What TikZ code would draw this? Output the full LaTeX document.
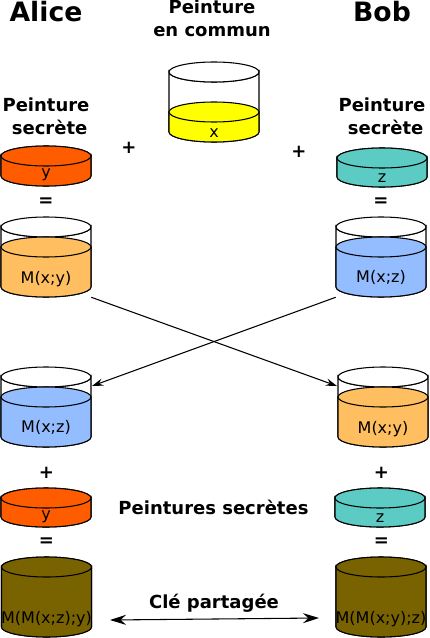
\documentclass[tikz,border=0pt]{standalone}
\usepackage{fontspec}
\setmainfont{DejaVu Sans}
\usetikzlibrary{arrows.meta,positioning}
\definecolor{potorange}{HTML}{FF5C00}
\definecolor{potteal}{HTML}{5CCBC4}
\definecolor{potyellow}{HTML}{FFFF00}
\definecolor{potsand}{HTML}{FFBF60}
\definecolor{potblue}{HTML}{94BDFF}
\definecolor{potbrown}{HTML}{786300}
% #1 name, #2 centre x, #3 top, #4 paint level, #5 bottom (ellipse centres), #6 colour, #7 text, #8 text y
\newcommand{\pot}[8]{
  \draw[potline, fill=white] (#2-45,#3) -- (#2-45,#5) arc (180:0:45 and 10) -- (#2+45,#3) arc (0:180:45 and 10) -- cycle;
  \draw[potline, fill=white] (#2,#3) ellipse [x radius=45, y radius=10];
  \draw[potline, fill=#6] (#2-45,#4) -- (#2-45,#5) arc (180:0:45 and 10) -- (#2+45,#4) -- cycle;
  \draw[potline, fill=#6] (#2,#4) ellipse [x radius=45, y radius=10];
  \node[potbox] (#1) at (#2,{(#3+#5)/2}) {};
  \node[pottext] (#1-txt) at (#2,#8) {#7};
  \coordinate (#1-l) at (#2-46,#3+9);
  \coordinate (#1-r) at (#2+46,#3+9);
}

\begin{document}
\begin{tikzpicture}[
  x=0.75pt, y=-0.75pt,
  potline/.style={draw=black, line width=0.8pt},
  potbox/.style={minimum width=67.5pt, minimum height=60pt, inner sep=0pt},
  pottext/.style={inner sep=0pt, font=\fontsize{12}{14}\selectfont},
  person/.style={inner sep=0pt, font=\fontsize{20}{24}\bfseries\selectfont},
  head/.style={inner sep=0pt, align=center, font=\fontsize{13.5}{17}\bfseries\selectfont},
  sign/.style={inner sep=0pt, font=\fontsize{13.5}{15}\bfseries\selectfont},
  pf/.style={-{Stealth[length=8.5pt, width=5.5pt, inset=3pt]}, line width=0.8pt},
  pfboth/.style={{Stealth[length=12pt, width=7.5pt, inset=4pt]}-{Stealth[length=12pt, width=7.5pt, inset=4pt]}, line width=0.8pt}
]
\useasboundingbox (0,0) rectangle (429,638);

\node[person] (alice) at (46,12) {Alice};
\node[person] (bob) at (382,12) {Bob};
\node[head] (common) at (212,18.5) {Peinture\\en commun};
\node[head] (secretA) at (46,116) {Peinture\\\hspace*{0.4em}secrète};
\node[head] (secretB) at (382,116) {Peinture\\\hspace*{0.4em}secrète};

\pot{potx}{214}{72}{112}{132}{potyellow}{x}{133.5}
\pot{poty}{46}{156}{156}{176}{potorange}{y}{175}
\pot{potz}{382}{158}{158}{177}{potteal}{z}{178}
\pot{mxy}{46}{227}{247}{287}{potsand}{M(x;y)}{279}
\pot{mxz}{381}{227}{247}{287}{potblue}{M(x;z)}{277}
\pot{recvA}{46}{377}{397}{437}{potblue}{M(x;z)}{427}
\pot{recvB}{383}{377}{397}{437}{potsand}{M(x;y)}{429}
\pot{polyA}{46}{498}{498}{517}{potorange}{y}{517}
\pot{polyB}{380}{498}{498}{517}{potteal}{z}{518}
\pot{keyA}{46.5}{567}{567}{627}{potbrown}{M(M(x;z);y)}{619}
\pot{keyB}{381}{567}{567}{627}{potbrown}{M(M(x;y);z)}{619}

\node[sign] (plusA) at (129,147.5) {+};
\node[sign] (plusB) at (299,151.5) {+};
\node[sign] (eqA) at (46,202.5) {=};
\node[sign] (eqB) at (381,202.5) {=};
\node[sign] (plusC) at (46.5,472.5) {+};
\node[sign] (plusD) at (381.5,472.5) {+};
\node[sign] (eqC) at (46.5,542.5) {=};
\node[sign] (eqD) at (381.5,542.5) {=};
\node[head] (secrets) at (213.5,507.5) {Peintures secrètes};
\node[head] (shared) at (214,603) {Clé partagée};

\coordinate (keyL) at (110,620);
\coordinate (keyR) at (319,618);
\draw[pf] (mxy.south east) -- (recvB-l);
\draw[pf] (mxz.south west) -- (recvA-r);
\draw[pfboth] (keyL) -- (keyR);
\end{tikzpicture}
\end{document}
